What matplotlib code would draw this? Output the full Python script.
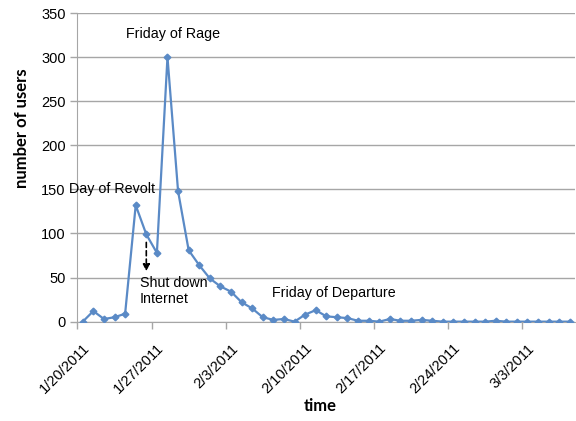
import matplotlib
matplotlib.use('Agg')
import matplotlib.pyplot as plt
import matplotlib.transforms as mtransforms
import pandas as pd

# daily counts, 1/20/2011 .. 3/7/2011
start_date = '2011-01-20'
users = [0, 12, 3, 5, 9, 132, 99, 78, 300, 148, 81, 64,
         49, 40, 34, 22, 15, 5, 2, 3, 0, 8, 13, 6, 5, 4, 1, 1, 0, 3, 1, 1, 2, 1,
         0, 0, 0, 0, 0, 1,
         0, 0, 0, 0, 0, 0, 0]
tick_labels = ['1/20/2011', '1/27/2011', '2/3/2011', '2/10/2011',
               '2/17/2011', '2/24/2011', '3/3/2011']
events = ['Day of Revolt', 'Friday of Rage', 'Friday of Departure']

dates = pd.date_range(start_date, periods=len(users), freq='D')
days = (dates - dates[0]).days.values

plt.rcParams['font.family'] = ['Liberation Sans', 'DejaVu Sans']
fig = plt.figure(figsize=(5.76, 4.21), dpi=100)
ax = fig.add_axes([0.1345, 0.236, 0.864, 0.733])

blue = '#5A8AC6'
grid_c = '#A6A6A6'
ax.plot(days, users, color=blue, lw=1.6, marker='D', ms=3.4, zorder=3)

ax.set_xlim(-0.5, len(users) - 0.5)
ax.set_ylim(0, 350)
ax.set_yticks(range(0, 351, 50))
ax.yaxis.grid(True, color=grid_c, lw=1)
ax.set_axisbelow(True)
ax.set_xticks([d - 0.5 for d in range(0, len(users), 7)])
ax.set_xticklabels(tick_labels, rotation=45, ha='right', rotation_mode='anchor')
ax.tick_params(axis='both', colors=grid_c, labelcolor='black', labelsize=10.5,
               length=5, width=1)
ax.tick_params(axis='x', pad=4)
shift = mtransforms.ScaledTranslation(0.05, -0.07, fig.dpi_scale_trans)
for lbl in ax.get_xticklabels():
    lbl.set_transform(lbl.get_transform() + shift)

for s in ['top', 'right']:
    ax.spines[s].set_visible(False)
for s in ['left', 'bottom']:
    ax.spines[s].set_color(grid_c)

ax.set_xlabel('time', fontfamily='Lato', fontweight='bold', fontsize=12, va='center')
ax.xaxis.set_label_coords(0.487, -0.274)
ax.set_ylabel('number of users', fontfamily='Lato', fontweight='bold', fontsize=12,
              va='center')
ax.yaxis.set_label_coords(-0.112, 0.627)

ax.text(-1.3, 150, events[0], fontsize=10.3, ha='left', va='center', clip_on=False)
ax.text(8.5, 326, events[1], fontsize=10.3, ha='center', va='center')
ax.text(17.9, 32, events[2], fontsize=10.3, ha='left', va='center')
ax.text(5.4, 35, 'Shut down\nInternet', fontsize=10.3, ha='left', va='center',
        linespacing=1.15)
ax.annotate('', xy=(6, 54), xytext=(6, 93),
            arrowprops=dict(arrowstyle='-|>', color='black', lw=1.2,
                            linestyle=(0, (3, 2)), mutation_scale=10))

fig.savefig('out.png', dpi=100)
